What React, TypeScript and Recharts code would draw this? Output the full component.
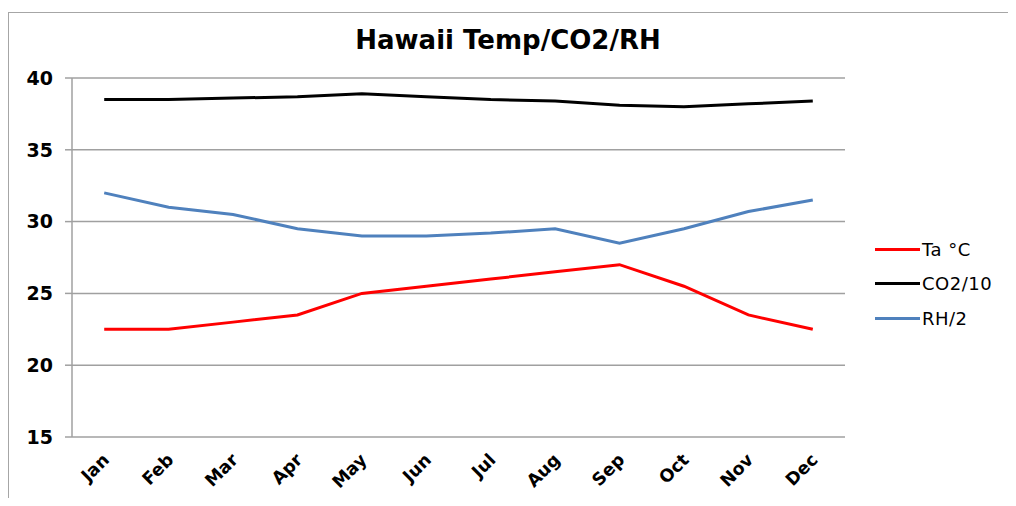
import React from "react";
import { LineChart, Line, XAxis, YAxis, CartesianGrid } from "recharts";

const months = ["Jan", "Feb", "Mar", "Apr", "May", "Jun", "Jul", "Aug", "Sep", "Oct", "Nov", "Dec"];
const taC = [22.5, 22.5, 23.0, 23.5, 25.0, 25.5, 26.0, 26.5, 27.0, 25.5, 23.5, 22.5];
const co2Div10 = [38.5, 38.5, 38.6, 38.7, 38.9, 38.7, 38.5, 38.4, 38.1, 38.0, 38.2, 38.4];
const rhDiv2 = [32.0, 31.0, 30.5, 29.5, 29.0, 29.0, 29.2, 29.5, 28.5, 29.5, 30.7, 31.5];
const yTicks = [15, 20, 25, 30, 35, 40];
const boundaryTicks = [0, 1, 2, 3, 4, 5, 6, 7, 8, 9, 10, 11, 12];
const centerTicks = months.map((_, i) => i + 0.5);

const seriesNames = ["Ta °C", "CO2/10", "RH/2"];
const seriesKeys = ["ta", "co2", "rh"];
const seriesColors = ["#ff0000", "#000000", "#4f81bd"];

const data = months.map((m, i) => ({
  x: i + 0.5,
  month: m,
  ta: taC[i],
  co2: co2Div10[i],
  rh: rhDiv2[i],
}));

const EmptyTick = () => <g />;

const MonthTick = (props: any) => {
  const { x, y, payload } = props;
  const idx = Math.round(payload.value - 0.5);
  const ax = x + 6;
  const ay = y + 16;
  return (
    <text
      x={ax}
      y={ay}
      textAnchor="end"
      transform={`rotate(-45, ${ax}, ${ay})`}
      fontFamily="DejaVu Sans"
      fontWeight="bold"
      fontSize={17.5}
      fill="#000"
    >
      {months[idx] ?? ""}
    </text>
  );
};

export default function App() {
  return (
    <div style={{ position: "relative", width: 1016, height: 506, margin: -8, background: "#fff", overflow: "hidden" }}>
      <div
        style={{
          position: "absolute",
          left: 8,
          top: 12,
          width: 1008,
          height: 494,
          borderTop: "1.5px solid #a6a6a6",
          borderLeft: "1.5px solid #a6a6a6",
          boxSizing: "border-box",
        }}
      />
      <div
        style={{
          position: "absolute",
          left: 0,
          width: 1016,
          top: 24,
          textAlign: "center",
          fontFamily: "DejaVu Sans",
          fontWeight: "bold",
          fontSize: 26,
          lineHeight: "32px",
          color: "#000",
        }}
      >
        Hawaii Temp/CO2/RH
      </div>
      <div style={{ position: "absolute", left: 0, top: 0 }}>
        <LineChart width={1016} height={506} data={data} margin={{ top: 78, right: 171, bottom: 9, left: 10 }}>
          <CartesianGrid horizontal={true} vertical={false} stroke="#a0a0a0" strokeWidth={1.5} />
          <XAxis
            xAxisId="b"
            dataKey="x"
            type="number"
            domain={[0, 12]}
            ticks={boundaryTicks}
            height={0}
            tick={<EmptyTick />}
            tickLine={{ stroke: "#a0a0a0", strokeWidth: 1.5 }}
            tickSize={7}
            axisLine={{ stroke: "#a0a0a0", strokeWidth: 1.5 }}
            interval={0}
          />
          <XAxis
            xAxisId="c"
            dataKey="x"
            type="number"
            domain={[0, 12]}
            ticks={centerTicks}
            height={60}
            tick={<MonthTick />}
            tickLine={false}
            axisLine={false}
            interval={0}
          />
          <YAxis
            domain={[15, 40]}
            ticks={yTicks}
            width={62}
            interval={0}
            tickSize={7}
            tickMargin={12}
            tickLine={{ stroke: "#a0a0a0", strokeWidth: 1.5 }}
            axisLine={{ stroke: "#a0a0a0", strokeWidth: 1.5 }}
            tick={{ fontFamily: "DejaVu Sans", fontWeight: "bold", fontSize: 19, fill: "#000" }}
          />
          {seriesKeys.map((k, i) => (
            <Line
              key={k}
              xAxisId="b"
              type="linear"
              dataKey={k}
              name={seriesNames[i]}
              stroke={seriesColors[i]}
              strokeWidth={3}
              dot={false}
              isAnimationActive={false}
            />
          ))}
        </LineChart>
      </div>
      <div style={{ position: "absolute", left: 875, top: 232, fontFamily: "DejaVu Sans", fontSize: 18, color: "#000" }}>
        {seriesNames.map((n, i) => (
          <div key={n} style={{ display: "flex", alignItems: "center", height: 34.5 }}>
            <div style={{ width: 45, height: 3, background: seriesColors[i], marginRight: 2 }} />
            <span style={{ letterSpacing: 0.5 }}>{n}</span>
          </div>
        ))}
      </div>
    </div>
  );
}
